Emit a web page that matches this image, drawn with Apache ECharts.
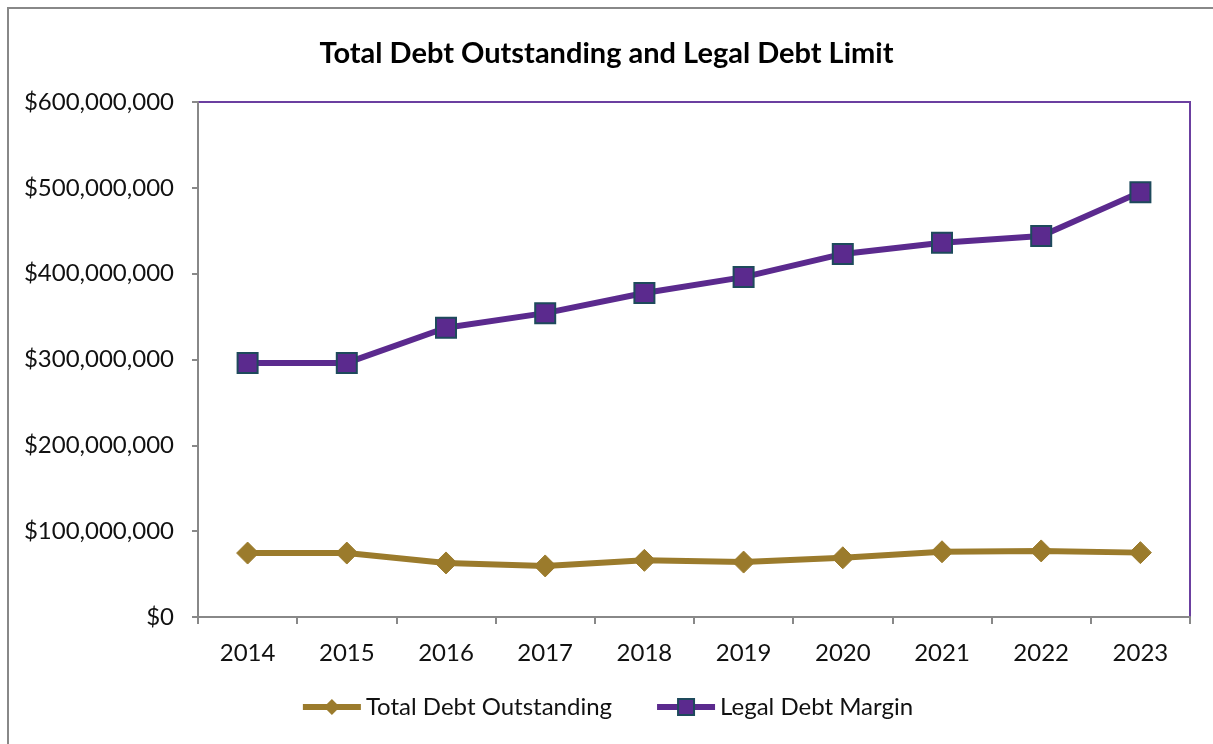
<!DOCTYPE html>
<html>
<head>
<meta charset="utf-8">
<script src="https://cdn.jsdelivr.net/npm/echarts@6/dist/echarts.min.js"></script>
<style>
  html, body { margin: 0; padding: 0; background: #fff; }
  #chart { width: 1213px; height: 744px; }
</style>
</head>
<body>
<div id="chart"></div>
<script>
const years = ['2014', '2015', '2016', '2017', '2018', '2019', '2020', '2021', '2022', '2023']
const totalDebt = [74.5, 74.5, 63, 59.5, 66, 64, 69, 76, 77, 75] // millions
const legalMargin = [296, 296, 337, 354, 377.5, 396, 423, 436, 444, 495] // millions
const yTicks = [0, 100, 200, 300, 400, 500, 600]

const gold = '#9B7B2C'
const purple = '#5B2A8E'
const font = 'Lato, "Open Sans", sans-serif'

const chart = echarts.init(document.getElementById('chart'))

function money(v) {
  if (v === 0) return '$0'
  return '$' + (v * 1000000).toLocaleString('en-US')
}

chart.setOption({
  animation: false,
  title: {
    text: 'Total Debt Outstanding and Legal Debt Limit',
    left: 'center',
    top: 34,
    textStyle: { fontFamily: font, fontSize: 29, fontWeight: 'bold', color: '#000' }
  },
  graphic: [{
    type: 'rect',
    shape: { x: 8, y: 8, width: 1210, height: 750 },
    style: { fill: 'none', stroke: '#888', lineWidth: 2 },
    silent: true
  }, {
    // purple top and right edge of plot area
    type: 'polyline',
    shape: { points: [[198, 102], [1190, 102], [1190, 617]] },
    style: { stroke: '#6B3FA0', lineWidth: 2, fill: 'none' },
    silent: true
  }],
  legend: {
    bottom: 20,
    left: 'center',
    itemGap: 42,
    itemWidth: 58,
    itemHeight: 20,
    lineStyle: { width: 6 },
    textStyle: { fontFamily: font, fontSize: 24, color: '#111' },
    data: ['Total Debt Outstanding', 'Legal Debt Margin']
  },
  grid: { left: 198, right: 23, top: 102, bottom: 127 },
  xAxis: {
    type: 'category',
    data: years,
    boundaryGap: true,
    axisLine: { lineStyle: { color: '#888', width: 2 } },
    axisTick: { show: true, length: 7, lineStyle: { color: '#888', width: 2 } },
    axisLabel: { fontFamily: font, fontSize: 24, color: '#111', margin: 24 }
  },
  yAxis: {
    type: 'value',
    min: 0,
    max: 600,
    interval: 100,
    splitLine: { show: false },
    axisLine: { show: true, lineStyle: { color: '#888', width: 2 } },
    axisTick: { show: true, length: 6, lineStyle: { color: '#888', width: 2 } },
    axisLabel: {
      fontFamily: font, fontSize: 24, color: '#111', margin: 24,
      formatter: v => yTicks.includes(v) ? money(v) : ''
    }
  },
  series: [{
    name: 'Total Debt Outstanding',
    type: 'line',
    data: totalDebt,
    symbol: 'diamond',
    symbolSize: 22,
    lineStyle: { color: gold, width: 6 },
    itemStyle: { color: gold, borderColor: gold }
  }, {
    name: 'Legal Debt Margin',
    type: 'line',
    data: legalMargin,
    symbol: 'rect',
    symbolSize: 20,
    lineStyle: { color: purple, width: 6 },
    itemStyle: { color: purple, borderColor: '#1E4A5C', borderWidth: 2 }
  }]
})
</script>
</body>
</html>
